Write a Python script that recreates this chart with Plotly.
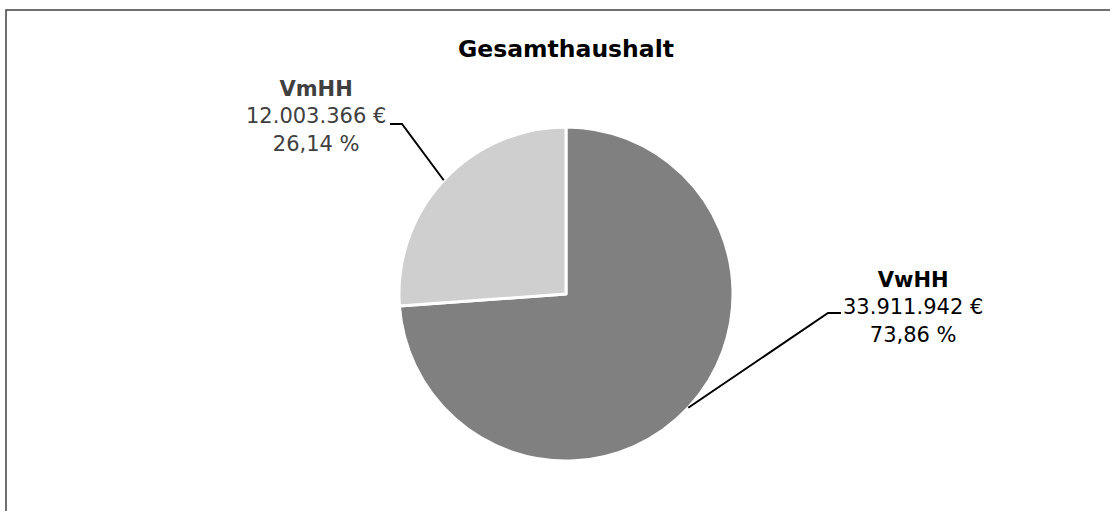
import math
import plotly.graph_objects as go

# Daten
labels = ["VwHH", "VmHH"]
values = [33911942, 12003366]
colors = ["#808080", "#d0cfd0"]
text_colors = ["#000000", "#404040"]

W, H = 1110, 511
# Kreismitte und Radius in Pixel
cx, cy, r = 566, 294, 167

# Beschriftungsposition (Pixel) und Knickpunkt der Führungslinie
label_pos = [(913, 307), (316, 116)]
elbow = [((841, 313), (828, 313)), ((390, 124), (402, 124))]


def px_to_paper(x, y):
    return x / W, 1 - y / H


def fmt_de(v, dec=0):
    s = f"{v:,.{dec}f}"
    return s.replace(",", "X").replace(".", ",").replace("X", ".")


total = sum(values)

fig = go.Figure()

fig.add_trace(go.Pie(
    labels=labels,
    values=values,
    sort=False,
    direction='clockwise',
    rotation=0,
    marker=dict(colors=colors, line=dict(color='#FFFFFF', width=3)),
    textinfo='none',
    hoverinfo='label+value+percent',
    domain=dict(
        x=[(cx - r) / W, (cx + r) / W],
        y=[(H - cy - r) / H, (H - cy + r) / H]
    ),
    showlegend=False
))

annotations = []
shapes = []
cum = 0
for i, (lab, v) in enumerate(zip(labels, values)):
    frac = v / total
    mid = (cum + frac / 2) * 2 * math.pi
    cum += frac
    # Randpunkt des Segments
    ex = cx + r * math.sin(mid)
    ey = cy - r * math.cos(mid)
    (hx0, hy0), (hx1, hy1) = elbow[i]
    p = [px_to_paper(hx0, hy0), px_to_paper(hx1, hy1), px_to_paper(ex, ey)]
    path = "M {:.5f},{:.5f} L {:.5f},{:.5f} L {:.5f},{:.5f}".format(
        p[0][0], p[0][1], p[1][0], p[1][1], p[2][0], p[2][1])
    shapes.append(dict(type='path', xref='paper', yref='paper', path=path,
                       line=dict(color='#000000', width=2)))

    tx, ty = px_to_paper(*label_pos[i])
    annotations.append(dict(
        x=tx, y=ty, xref='paper', yref='paper',
        xanchor='center', yanchor='middle',
        showarrow=False, align='center',
        text=f"<b>{lab}</b><br>{fmt_de(v)} €<br>{fmt_de(frac * 100, 2)} %",
        font=dict(family='DejaVu Sans', size=21, color=text_colors[i])
    ))

# Rahmen
shapes.append(dict(type='rect', xref='paper', yref='paper',
                   x0=6 / W, y0=-0.05, x1=1.05, y1=1 - 10 / H,
                   line=dict(color='#404040', width=1.5)))

fig.update_layout(
    title=dict(
        text="<b>Gesamthaushalt</b>",
        font=dict(family='DejaVu Sans', size=23.5, color='#000000'),
        x=566 / W, xanchor='center',
        y=1 - 49 / H, yanchor='middle'
    ),
    annotations=annotations,
    shapes=shapes,
    width=W, height=H,
    margin=dict(l=0, r=0, t=0, b=0),
    paper_bgcolor='#FFFFFF',
    plot_bgcolor='#FFFFFF'
)

fig.write_html("out.html",
               config=dict(displayModeBar=False),
               post_script="document.body.style.margin='0';"
                           "document.body.style.overflow='hidden';")
